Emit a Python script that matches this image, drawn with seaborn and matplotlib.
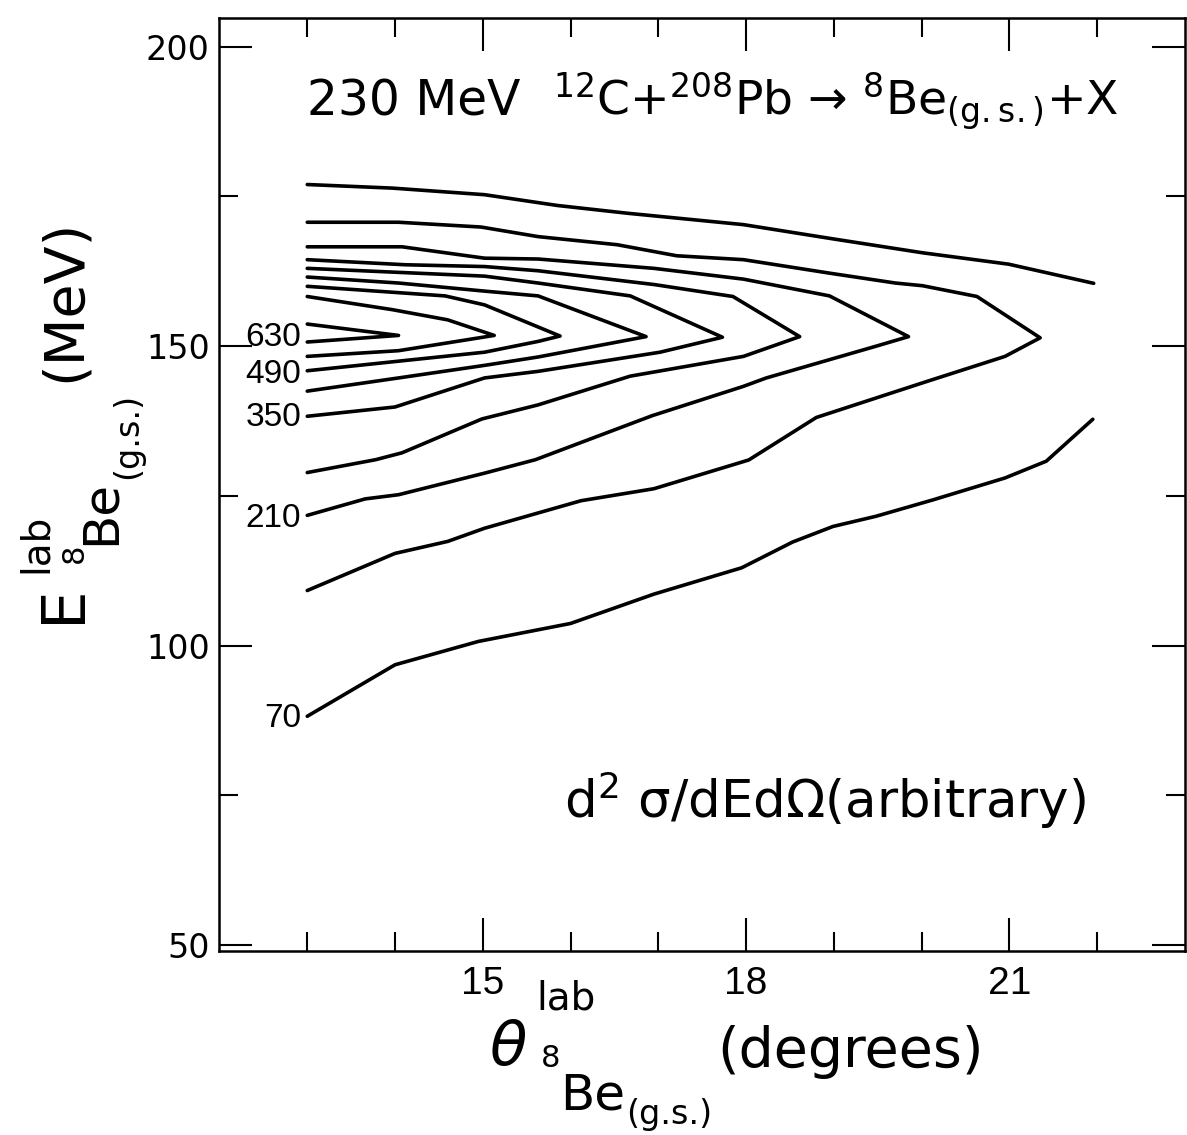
import matplotlib
matplotlib.use("Agg")
import matplotlib.pyplot as plt
from matplotlib.ticker import FixedLocator, FixedFormatter, NullFormatter
import pandas as pd
import seaborn as sns

# ---------------- data ----------------
# contour levels of d2sigma/dEdOmega (arbitrary units), paths in (theta, E)
theta_630 = [13.0, 14.04, 13.0]
energy_630 = [153.7, 151.8, 150.7]

theta_560 = [13.0, 13.97, 14.6, 15.13, 14.04, 13.0]
energy_560 = [158.3, 156.1, 154.4, 151.8, 149.25, 148.3]

theta_490 = [13.0, 14.57, 15.02, 15.88, 15.63, 15.02, 14.04, 13.0]
energy_490 = [160.0, 158.4, 156.9, 151.7, 150.8, 149.0, 147.5, 145.9]

theta_420 = [13.0, 14.04, 15.02, 15.63, 16.86, 15.63, 15.02, 14.04, 13.0]
energy_420 = [161.55, 160.55, 159.2, 158.4, 151.6, 148.2, 146.8, 144.7, 142.5]

theta_350 = [13.0, 15.02, 15.63, 16.68, 17.73, 17.02, 15.63, 15.02, 14.0, 13.0]
energy_350 = [163.0, 161.7, 160.55, 158.4, 151.5, 149.0, 145.8, 144.7, 139.85, 138.3]

theta_280 = [13.0, 14.12, 15.02, 15.63, 16.95, 17.85, 18.61,
             17.97, 16.68, 15.63, 14.99, 14.08, 13.78, 13.0]
energy_280 = [164.45, 163.6, 163.3, 162.6, 160.3, 158.3, 151.6,
              148.3, 145.0, 140.2, 137.85, 132.2, 131.05, 128.9]

theta_210 = [13.0, 14.08, 15.02, 15.63, 16.95, 17.97, 18.95, 19.85,
             19.48, 18.23, 17.97, 16.93, 15.6, 15.02, 14.04, 13.66, 13.0]
energy_210 = [166.6, 166.6, 164.7, 164.56, 163.0, 161.2, 158.4, 151.6,
              150.0, 144.7, 143.3, 138.4, 131.05, 128.8, 125.2, 124.5, 121.75]

theta_140 = [13.0, 14.04, 14.98, 15.63, 16.53, 17.21, 17.97, 18.95, 19.7, 20.01, 20.63, 21.35,
             20.95, 20.12, 19.7, 18.8, 18.03, 16.95, 16.12, 15.02, 14.6, 14.0, 13.0]
energy_140 = [170.7, 170.7, 169.9, 168.3, 166.95, 165.1, 164.45, 162.2, 160.55, 160.1, 158.3, 151.4,
              148.3, 144.4, 142.4, 138.1, 131.0, 126.2, 124.2, 119.6, 117.4, 115.4, 109.2]

theta_70_upper = [13.0, 13.97, 15.02, 15.85, 16.65, 17.97, 19.0, 20.01, 20.99, 21.96]
energy_70_upper = [177.0, 176.4, 175.3, 173.5, 172.2, 170.3, 167.9, 165.6, 163.7, 160.5]

theta_70_lower = [13.0, 14.0, 14.95, 16.0, 16.95, 17.95, 18.53, 18.99, 19.48, 20.12, 20.95, 21.42, 21.95]
energy_70_lower = [88.2, 96.8, 100.7, 103.7, 108.6, 113.0, 117.3, 119.9, 121.6, 124.3, 128.0, 130.8, 137.8]

label_text = ["630", "490", "350", "210", "70"]
label_energy = [151.4, 145.2, 138.1, 121.3, 87.9]

x_major = [15, 18, 21]
x_major_labels = ["15", "18", "21"]
x_minor = [13, 14, 16, 17, 19, 20, 22]
y_major = [50, 100, 150, 200]
y_major_labels = ["50", "100", "150", "200"]
y_minor = [75, 125, 175]

# ---------------- build long table ----------------
paths = [
    ("630", theta_630, energy_630), ("560", theta_560, energy_560),
    ("490", theta_490, energy_490), ("420", theta_420, energy_420),
    ("350", theta_350, energy_350), ("280", theta_280, energy_280),
    ("210", theta_210, energy_210), ("140", theta_140, energy_140),
    ("70u", theta_70_upper, energy_70_upper), ("70l", theta_70_lower, energy_70_lower),
]
rows = []
for name, th, en in paths:
    for i, (t, e) in enumerate(zip(th, en)):
        rows.append({"segment": name, "order": i, "theta": t, "energy": e})
df = pd.DataFrame(rows)

# ---------------- plot ----------------
sns.set_style("ticks")
plt.rcParams["font.family"] = ["DejaVu Sans"]
plt.rcParams["mathtext.default"] = "regular"
plt.rcParams.update({"text.color": "black", "axes.labelcolor": "black",
                     "xtick.color": "black", "ytick.color": "black",
                     "axes.edgecolor": "black"})

W, H = 1187, 1135
fig = plt.figure(figsize=(W / 100, H / 100), dpi=100)
ax = fig.add_axes([0.1849, 0.1621, 0.8134, 0.8220])

sns.lineplot(data=df, x="theta", y="energy", units="segment", estimator=None,
             sort=False, color="black", linewidth=2.6, legend=False, ax=ax)

ax.set_xlim(12.0, 23.0)
ax.set_ylim(49.0, 204.8)

for s in ax.spines.values():
    s.set_visible(True)
    s.set_linewidth(1.8)
    s.set_color("black")

ax.xaxis.set_major_locator(FixedLocator(x_major))
ax.xaxis.set_major_formatter(FixedFormatter(x_major_labels))
ax.xaxis.set_minor_locator(FixedLocator(x_minor))
ax.xaxis.set_minor_formatter(NullFormatter())
ax.yaxis.set_major_locator(FixedLocator(y_major))
ax.yaxis.set_major_formatter(FixedFormatter(y_major_labels))
ax.yaxis.set_minor_locator(FixedLocator(y_minor))
ax.yaxis.set_minor_formatter(NullFormatter())

ax.tick_params(which="both", direction="in", top=True, right=True, color="black", width=1.5)
ax.tick_params(which="major", length=24)
ax.tick_params(which="minor", length=14)
ax.tick_params(axis="x", which="major", pad=11, labelsize=28, labelfontfamily="Liberation Sans")
ax.tick_params(axis="y", which="major", pad=7, labelsize=24)
ax.set_xlabel("")
ax.set_ylabel("")

# contour labels
for txt, e in zip(label_text, label_energy):
    ax.text(12.93, e, txt, ha="right", va="center", fontsize=24,
            family=["Liberation Sans", "DejaVu Sans"])


def fpos(px, py):
    return px / W, 1 - py / H


# x axis label assembled from pieces: (text, px start, py baseline, size, style)
xlab_parts = [("θ", 490, 1065, 44, "italic"), ("lab", 536, 1010, 28, "normal"),
              ("8", 541, 1067, 22, "normal"), ("Be", 560, 1110, 36, "normal"),
              ("(g.s.)", 626, 1124, 24, "normal"), ("(degrees)", 717, 1067, 40, "normal")]
for t, px, py, fs, st in xlab_parts:
    fig.text(*fpos(px, py), t, fontsize=fs, style=st, ha="left", va="baseline")

# y axis label assembled from pieces, rotated: (text, px baseline, py start, size)
ylab_parts = [("E", 80, 623, 44), ("lab", 47, 573, 28), ("8", 83, 563, 22),
              ("Be", 115, 545, 36), ("(g.s.)", 137, 479, 24), ("(MeV)", 80, 382, 40)]
for t, px, py, fs in ylab_parts:
    fig.text(*fpos(px, py), t, fontsize=fs, rotation=90, rotation_mode="anchor",
             ha="left", va="baseline")

ax.text(13.0, 188.6, "230 MeV", fontsize=35, ha="left", va="baseline")
ax.text(15.8, 188.6, r"$^{12}$C+$^{208}$Pb → $^{8}$Be$_{(g.s.)}$+X", fontsize=34,
        ha="left", va="baseline")
ax.text(15.93, 71.2, r"d$^{2}$ $\sigma$/dEd$\Omega$(arbitrary)", fontsize=37,
        ha="left", va="baseline")

fig.savefig("out.png", dpi=100, facecolor="white")
